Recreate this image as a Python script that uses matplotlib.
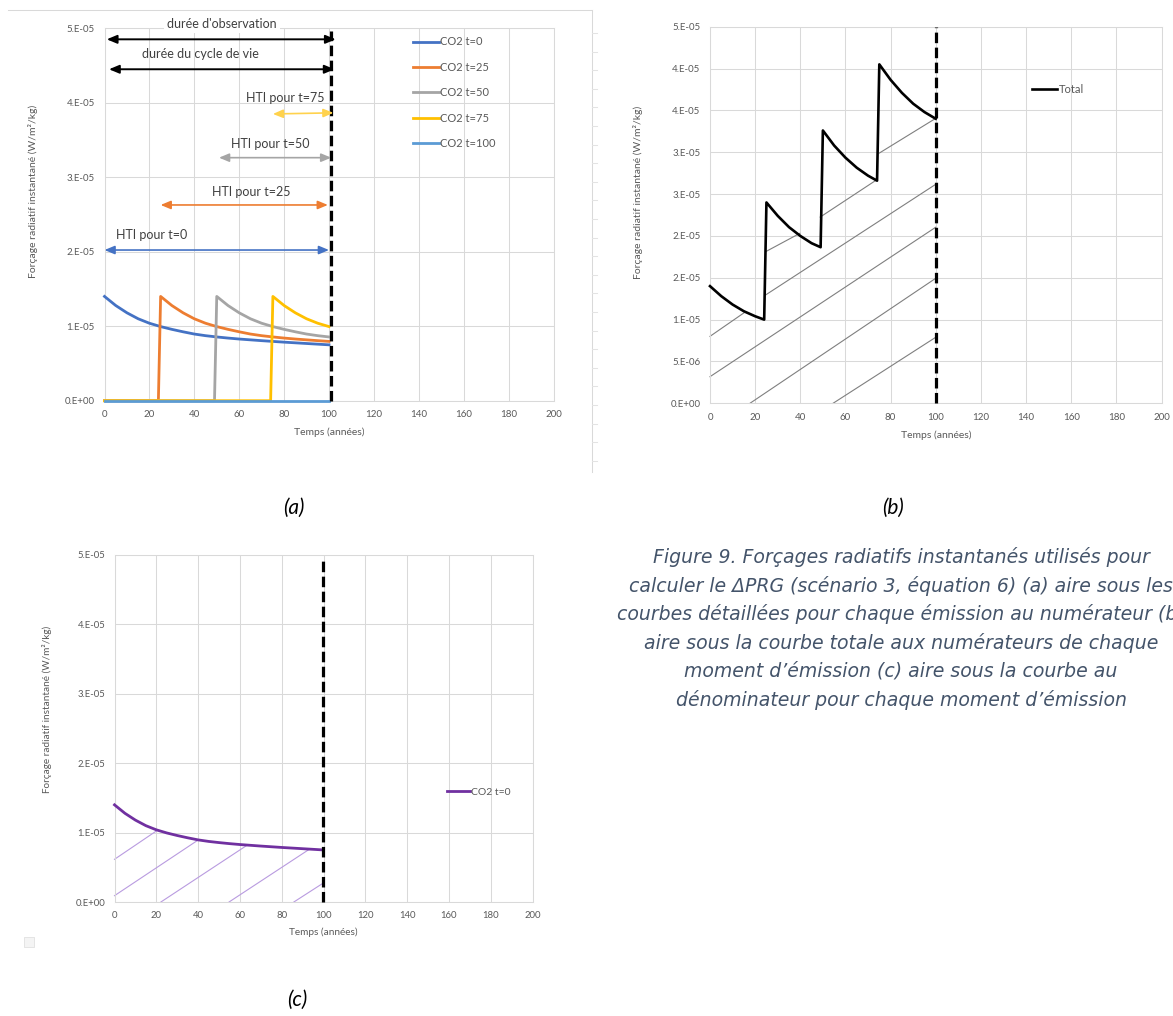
import math
import numpy as np
import matplotlib
matplotlib.use("Agg")
import matplotlib.pyplot as plt
from matplotlib.lines import Line2D
from matplotlib.ticker import FuncFormatter
from matplotlib.patches import Rectangle

# ---------------- data (values in units of 1e-5 W/m2/kg) ----------------
years_ticks = [0, 20, 40, 60, 80, 100, 120, 140, 160, 180, 200]

resp_age = [0, 5, 10, 15, 20, 25, 30, 35, 40, 45, 50, 55, 60, 65, 70, 75, 80, 85, 90, 95, 100]
resp_val = [1.400, 1.278, 1.180, 1.100, 1.040, 0.995, 0.958, 0.925, 0.895, 0.873, 0.856,
            0.841, 0.828, 0.817, 0.806, 0.796, 0.786, 0.777, 0.768, 0.759, 0.750]

emission_years = [0, 25, 50, 75, 100]
series_labels = ["CO2 t=0", "CO2 t=25", "CO2 t=50", "CO2 t=75", "CO2 t=100"]
series_colors = ["#4472C4", "#ED7D31", "#A5A5A5", "#FFC000", "#5B9BD5"]

# panel (b) total curve
total_t = [0, 5, 10, 15, 20, 24, 25, 30, 35, 40, 45, 49, 50, 55, 60, 65, 70, 74,
           75, 80, 85, 90, 95, 100]
total_v = [1.40, 1.28, 1.18, 1.10, 1.04, 1.00, 2.40, 2.24, 2.105, 2.00, 1.913, 1.865,
           3.26, 3.08, 2.935, 2.815, 2.72, 2.66, 4.05, 3.865, 3.71, 3.58, 3.48, 3.40]

# hatch segments (t0, v0, t1, v1)
hatch_b = [(0, 0.80, 15, 1.08), (24.6, 1.294, 100, 2.617), (0, 0.318, 100, 2.104),
           (17.7, 0.0, 100, 1.494), (54.5, 0.0, 100, 0.789), (24.6, 1.811, 39.8, 2.031),
           (48.8, 2.225, 73.7, 2.668), (75, 2.99, 100, 3.405)]
hatch_c = [(0, 0.615, 20, 1.023), (0, 0.091, 40, 0.893), (22.2, 0.0, 63, 0.81),
           (54.8, 0.0, 93.3, 0.762), (85.8, 0.0, 99.2, 0.26)]

# panel (a) annotation arrows
arrow_labels = ["durée d'observation", "durée du cycle de vie", "HTI pour t=75",
                "HTI pour t=50", "HTI pour t=25", "HTI pour t=0"]
arrow_t0 = [1, 2, 75, 51, 25, 0]
arrow_t1 = [103, 102.5, 102, 101, 99.5, 100]
arrow_v0 = [4.852, 4.45, 3.85, 3.263, 2.628, 2.023]
arrow_v1 = [4.852, 4.45, 3.865, 3.263, 2.628, 2.023]
arrow_colors = ["#000000", "#000000", "#FFD24D", "#A5A5A5", "#ED7D31", "#4472C4"]
label_t = [52.2, 42.8, 80.6, 73.8, 65.5, 21.0]
label_v = [5.06, 4.65, 4.07, 3.44, 2.80, 2.225]

caption_lines = [
    "Figure 9. Forçages radiatifs instantanés utilisés pour",
    "calculer le ΔPRG (scénario 3, équation 6) (a) aire sous les",
    "courbes détaillées pour chaque émission au numérateur (b)",
    "aire sous la courbe totale aux numérateurs de chaque",
    "moment d’émission (c) aire sous la courbe au",
    "dénominateur pour chaque moment d’émission",
]

SCALE = 1e-5
# ---------------- figure ----------------
W, H = 1173, 1016
plt.rcParams['font.family'] = ['Lato', 'DejaVu Sans']
fig = plt.figure(figsize=(W / 100, H / 100), dpi=100)
fig.patch.set_facecolor("white")


def rect(l, r, t, b):
    return [l / W, 1 - b / H, (r - l) / W, (b - t) / H]


def fx(x):
    return x / W


def fy(y):
    return 1 - y / H


def excel_fmt(v, pos=None):
    if abs(v) < 1e-20:
        return "0.E+00"
    e = math.floor(math.log10(abs(v)) + 1e-9)
    m = abs(v) / 10 ** e
    mr = math.floor(m + 0.5 + 1e-9)
    if mr >= 10:
        mr = 1
        e += 1
    sign = "-" if v < 0 else ""
    return f"{sign}{mr}.E{'+' if e >= 0 else '-'}{abs(e):02d}"


def style(ax, ymax, ystep, pad=7, size=7):
    ax.set_xlim(0, 200)
    ax.set_ylim(0, ymax)
    ax.set_xticks(years_ticks)
    ax.set_yticks(np.arange(0, ymax + ystep / 2, ystep))
    ax.yaxis.set_major_formatter(FuncFormatter(excel_fmt))
    ax.grid(True, color="#D9D9D9", lw=0.75)
    ax.set_axisbelow(True)
    for s in ax.spines.values():
        s.set_color("#D9D9D9")
        s.set_linewidth(0.75)
    ax.tick_params(length=0, labelsize=size, labelcolor="#595959", pad=pad)


GRAY_TXT = "#595959"
YLAB = "Forçage radiatif instantané (W/m²/kg)"
XLAB = "Temps (années)"

# ---------- panel (a) ----------
axa = fig.add_axes(rect(104.5, 553.5, 28.3, 400.7))
style(axa, 5e-5, 1e-5)
handles = []
for e, lab, col in zip(emission_years, series_labels, series_colors):
    if e == 0:
        xs = [e + a for a in resp_age if e + a <= 100]
        ys = [v * SCALE for a, v in zip(resp_age, resp_val) if e + a <= 100]
    elif e >= 100:
        xs = [0, e]
        ys = [0, 0]
    else:
        xs = [0, e - 1] + [e + a for a in resp_age if e + a <= 100]
        ys = [0, 0] + [v * SCALE for a, v in zip(resp_age, resp_val) if e + a <= 100]
    ln, = axa.plot(xs, ys, color=col, lw=2.0, clip_on=False, zorder=3, label=lab)
    handles.append(ln)
axa.plot([101, 101], [0, 4.96e-5], color="black", lw=2.3, ls=(0, (3.3, 1.4)),
         clip_on=False, zorder=4)
for i in range(len(arrow_labels)):
    col = arrow_colors[i]
    lw = 1.4 if col == "#000000" else 1.2
    axa.annotate("", xy=(arrow_t1[i], arrow_v1[i] * SCALE),
                 xytext=(arrow_t0[i], arrow_v0[i] * SCALE),
                 arrowprops=dict(arrowstyle="<|-|>,head_length=0.6,head_width=0.25",
                                 color=col, lw=lw, shrinkA=0, shrinkB=0),
                 annotation_clip=False, zorder=5)
    bb = dict(boxstyle="square,pad=0.25", fc="white", ec="none") if i == 0 else None
    axa.text(label_t[i], label_v[i] * SCALE, arrow_labels[i], ha="center", va="center",
             fontsize=9, color="#404040", bbox=bb, clip_on=False, zorder=6)
leg = axa.legend(handles=handles, loc="upper left", bbox_to_anchor=(0.687, 0.978),
                 frameon=False, fontsize=8, handlelength=2.3, handletextpad=0.15,
                 labelspacing=1.3, borderpad=0, borderaxespad=0)
for t in leg.get_texts():
    t.set_color(GRAY_TXT)
fig.text(fx(33), fy(191.7), YLAB, rotation=90, ha="center", va="center",
         fontsize=7.5, color=GRAY_TXT)
fig.text(fx(329.5), fy(432.7), XLAB, ha="center", va="center", fontsize=7.5, color=GRAY_TXT)

# chart border of panel (a) and spreadsheet cells
border_col = "#D9D9D9"
fig.add_artist(Line2D([fx(7.7), fx(591.7)], [fy(10), fy(10)], color=border_col, lw=0.75))
fig.add_artist(Line2D([fx(591.7), fx(591.7)], [fy(10), fy(471.7)], color=border_col, lw=0.75))
for yk in np.arange(33, 470, 18.6):
    fig.add_artist(Line2D([fx(591.7), fx(597)], [fy(yk), fy(yk)], color="#E3E3E3", lw=0.75))

# ---------- panel (b) ----------
axb = fig.add_axes(rect(710, 1161.5, 26.7, 403.3))
style(axb, 4.5e-5, 5e-6)
for (t0, v0, t1, v1) in hatch_b:
    axb.plot([t0, t1], [v0 * SCALE, v1 * SCALE], color="#7F7F7F", lw=0.8, zorder=2,
             clip_on=False)
tl, = axb.plot(total_t, [v * SCALE for v in total_v], color="black", lw=1.9, zorder=3,
               clip_on=False, label="Total")
axb.plot([100, 100], [0, 4.5e-5], color="black", lw=2.3, ls=(0, (3.3, 1.4)),
         clip_on=False, zorder=4)
legb = axb.legend(handles=[tl], loc="upper left", bbox_to_anchor=(0.713, 0.848),
                  frameon=False, fontsize=8, handlelength=2.3, handletextpad=0.15,
                  borderpad=0, borderaxespad=0)
for t in legb.get_texts():
    t.set_color(GRAY_TXT)
fig.text(fx(637.6), fy(192.5), YLAB, rotation=90, ha="center", va="center",
         fontsize=7.5, color=GRAY_TXT)
fig.text(fx(936.6), fy(435), XLAB, ha="center", va="center", fontsize=7.5, color=GRAY_TXT)

# ---------- panel (c) ----------
axc = fig.add_axes(rect(114.5, 532.6, 555, 902))
style(axc, 5e-5, 1e-5, pad=6.5, size=6.8)
for (t0, v0, t1, v1) in hatch_c:
    axc.plot([t0, t1], [v0 * SCALE, v1 * SCALE], color="#B99BE0", lw=0.8, zorder=2,
             clip_on=False)
pl, = axc.plot(resp_age, [v * SCALE for v in resp_val], color="#7030A0", lw=2.0, zorder=3,
               clip_on=False, label="CO2 t=0")
axc.plot([99.5, 99.5], [0, 4.97e-5], color="black", lw=2.3, ls=(0, (3.3, 1.4)),
         clip_on=False, zorder=4)
legc = axc.legend(handles=[pl], loc="upper left", bbox_to_anchor=(0.795, 0.33),
                  frameon=False, fontsize=7.5, handlelength=2.2, handletextpad=0.15,
                  borderpad=0, borderaxespad=0)
for t in legc.get_texts():
    t.set_color(GRAY_TXT)
fig.text(fx(46.7), fy(709), YLAB, rotation=90, ha="center", va="center",
         fontsize=7.2, color=GRAY_TXT)
fig.text(fx(323.7), fy(932), XLAB, ha="center", va="center", fontsize=7.2, color=GRAY_TXT)
fig.add_artist(Rectangle((fx(24), fy(947)), 10 / W, 10 / H, fc="#F4F4F4", ec="#E0E0E0",
                         lw=0.6))

# ---------- sub-labels and caption ----------
for lab, x, y in [("(a)", 294, 508), ("(b)", 893, 508), ("(c)", 297, 1000)]:
    fig.text(fx(x), fy(y), lab, ha="center", va="center", fontsize=15, style="italic",
             color="black")
for i, line in enumerate(caption_lines):
    fig.text(fx(901), fy(557 + 28.6 * i), line, ha="center", va="center", fontsize=13.6,
             style="italic", color="#44546A", family=["DejaVu Sans"])

fig.savefig("out.png", dpi=100, facecolor="white")
